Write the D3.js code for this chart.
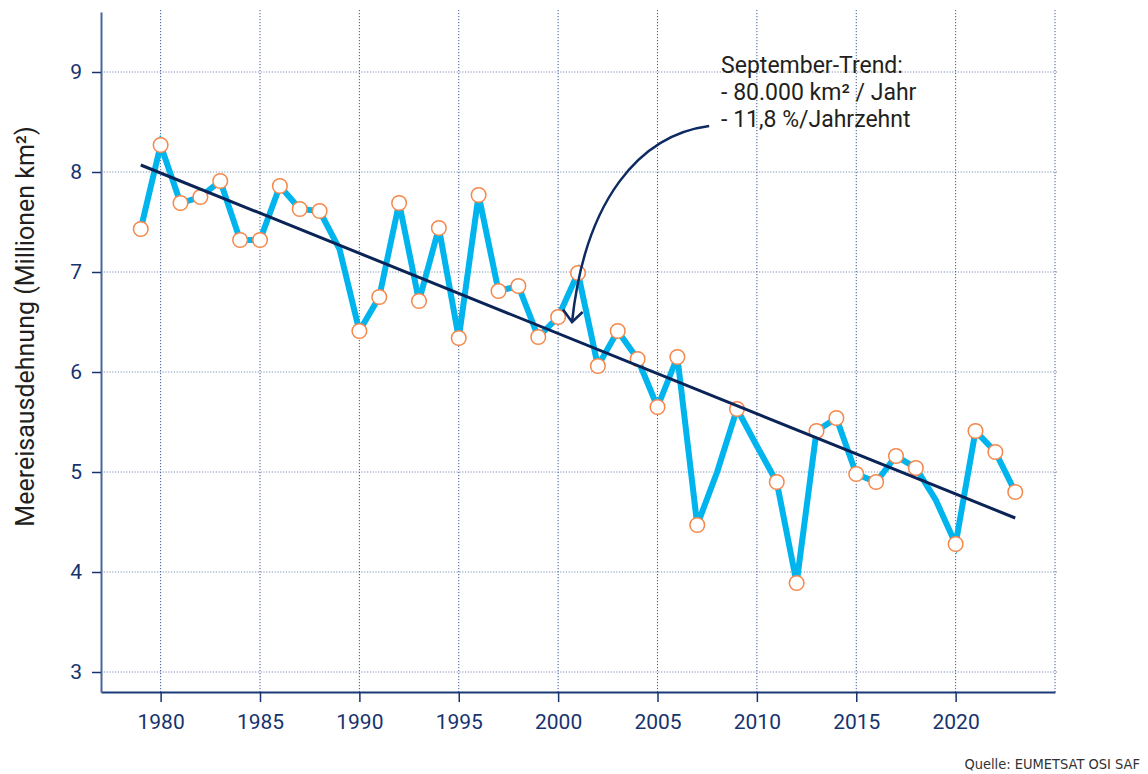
<!DOCTYPE html>
<html>
<head>
<meta charset="utf-8">
<script src="https://cdn.jsdelivr.net/npm/d3@7"></script>
<style>
    body { margin: 0; background: white; }
    svg { display: block; }
</style>
</head>
<body>
<script>

/**
 * Data (September sea ice extent, Mio km2)
 */

const YEARS = [1979, 1980, 1981, 1982, 1983, 1984, 1985, 1986, 1987, 1988,
               1989, 1990, 1991, 1992, 1993, 1994, 1995, 1996, 1997, 1998,
               1999, 2000, 2001, 2002, 2003, 2004, 2005, 2006, 2007, 2008,
               2009, 2010, 2011, 2012, 2013, 2014, 2015, 2016, 2017, 2018,
               2019, 2020, 2021, 2022, 2023];

const EXTENT = [7.43, 8.27, 7.69, 7.75, 7.91, 7.32, 7.32, 7.86, 7.63, 7.61,
                7.23, 6.41, 6.75, 7.69, 6.71, 7.44, 6.34, 7.77, 6.81, 6.86,
                6.35, 6.55, 6.99, 6.06, 6.41, 6.13, 5.65, 6.15, 4.47, 5.00,
                5.63, 5.26, 4.90, 3.89, 5.41, 5.54, 4.98, 4.90, 5.16, 5.04,
                4.72, 4.28, 5.41, 5.20, 4.80];

// years drawn without a circle in the original
const NO_MARKER = [1989, 2008, 2010, 2019];

const TREND_YEARS = [1979, 2023];
const TREND_VALUES = [8.07, 4.54];

const X_TICKS = [1980, 1985, 1990, 1995, 2000, 2005, 2010, 2015, 2020];
const X_GRID = [1980, 1985, 1990, 1995, 2000, 2005, 2010, 2015, 2020, 2025];
const Y_TICKS = [3, 4, 5, 6, 7, 8, 9];

const NOTE_LINES = ["September-Trend:", "- 80.000 km\u00B2 / Jahr", "- 11,8 %/Jahrzehnt"];

/**
 * Layout
 */

const WIDTH = 1148;
const HEIGHT = 774;

const LEFT = 101;
const RIGHT = 1055;
const TOP = 12;
const BOTTOM = 692;

const NAVY = "#17336e";
const FONT = "Roboto, 'Noto Sans', sans-serif";

const x = d3.scaleLinear().domain([1977, 2025]).range([LEFT, RIGHT]);
const y = d3.scaleLinear().domain([2.8, 9.6]).range([BOTTOM, TOP]);

const svg = initializeCanvas(WIDTH, HEIGHT, "white");

/**
 * Grid
 */

svg.append("g")
    .selectAll("line")
    .data(Y_TICKS)
    .join("line")
    .attr("x1", LEFT)
    .attr("x2", RIGHT + 2)
    .attr("y1", d => y(d))
    .attr("y2", d => y(d))
    .attr("stroke", "#7d8fb4")
    .attr("stroke-width", 1)
    .attr("stroke-dasharray", "1.2 1.6");

svg.append("g")
    .selectAll("line")
    .data(X_GRID)
    .join("line")
    .attr("x1", d => x(d))
    .attr("x2", d => x(d))
    .attr("y1", TOP - 2)
    .attr("y2", BOTTOM)
    .attr("stroke", "#3e5894")
    .attr("stroke-width", 1)
    .attr("stroke-dasharray", "1.2 1.8");

/**
 * Axes
 */

const xAxis = svg.append("g")
    .attr("transform", `translate(0,${BOTTOM})`)
    .call(d3.axisBottom(x).tickValues(X_TICKS).tickFormat(d3.format("d"))
        .tickSize(10).tickPadding(12).tickSizeOuter(0));

xAxis.select(".domain").attr("stroke", "#1b3a78").attr("stroke-width", 2);
xAxis.selectAll(".tick line").attr("stroke", NAVY).attr("stroke-width", 1.5);
xAxis.selectAll(".tick text")
    .attr("fill", NAVY)
    .style("font-family", FONT)
    .style("font-size", "21px");

const yAxis = svg.append("g")
    .attr("transform", `translate(${LEFT},0)`)
    .call(d3.axisLeft(y).tickValues(Y_TICKS).tickFormat(d3.format("d"))
        .tickSize(9).tickPadding(10).tickSizeOuter(0));

yAxis.select(".domain").attr("stroke", "#4a6699").attr("stroke-width", 2);
yAxis.selectAll(".tick line").attr("stroke", NAVY).attr("stroke-width", 1.5);
yAxis.selectAll(".tick text")
    .attr("fill", NAVY)
    .style("font-family", FONT)
    .style("font-size", "21px");

svg.append("text")
    .attr("transform", `translate(34,${(123 + 530) / 2}) rotate(-90)`)
    .attr("text-anchor", "middle")
    .attr("fill", "#231f20")
    .style("font-family", FONT)
    .style("font-size", "25px")
    .text("Meereisausdehnung (Millionen km\u00B2)");

/**
 * Series
 */

const points = YEARS.map((yr, i) => ({ year: yr, value: EXTENT[i] }));

svg.append("path")
    .datum(points)
    .attr("fill", "none")
    .attr("stroke", "#00b4ee")
    .attr("stroke-width", 6)
    .attr("stroke-linejoin", "miter")
    .attr("d", d3.line().x(d => x(d.year)).y(d => y(d.value)));

svg.append("g")
    .selectAll("circle")
    .data(points.filter(d => !NO_MARKER.includes(d.year)))
    .join("circle")
    .attr("cx", d => x(d.year))
    .attr("cy", d => y(d.value))
    .attr("r", 7.3)
    .attr("fill", "white")
    .attr("stroke", "#f5874a")
    .attr("stroke-width", 1.5);

svg.append("line")
    .attr("x1", x(TREND_YEARS[0]))
    .attr("y1", y(TREND_VALUES[0]))
    .attr("x2", x(TREND_YEARS[1]))
    .attr("y2", y(TREND_VALUES[1]))
    .attr("stroke", "#0b2457")
    .attr("stroke-width", 3);

/**
 * Annotation (anchored in data units)
 */

const tip = [x(2000.70), y(6.50)];
const tail = [x(2007.6), y(8.46)];
const c1 = [x(2004.1), y(8.37)];
const c2 = [x(2001.35), y(7.72)];

svg.append("path")
    .attr("fill", "none")
    .attr("stroke", "#0d2a62")
    .attr("stroke-width", 2.5)
    .attr("d", `M${tail} C${c1} ${c2} ${tip}`);

svg.append("path")
    .attr("fill", "none")
    .attr("stroke", "#0d2a62")
    .attr("stroke-width", 2.5)
    .attr("d", `M${tip[0] - 9},${tip[1] - 12.4} L${tip} L${tip[0] + 10.6},${tip[1] - 10}`);

svg.append("text")
    .attr("x", x(2008.2))
    .attr("y", y(8.99))
    .attr("fill", "#231f20")
    .style("font-family", FONT)
    .style("font-size", "23px")
    .selectAll("tspan")
    .data(NOTE_LINES)
    .join("tspan")
    .attr("x", x(2008.2))
    .attr("dy", (d, i) => i === 0 ? 0 : 27)
    .text(d => d);

svg.append("text")
    .attr("x", 1140)
    .attr("y", 769)
    .attr("text-anchor", "end")
    .attr("fill", "#333333")
    .style("font-family", "'DejaVu Sans Condensed', 'Liberation Sans Narrow', sans-serif")
    .style("font-size", "14.5px")
    .text("Quelle: EUMETSAT OSI SAF");

/**
 * Returns an SVG element of size w x h filled with color
 */
function initializeCanvas(w, h, color) {
    const svgSpace = d3.select("body")
        .append("svg")
        .attr("width", w)
        .attr("height", h);

    if (color != null) {
        svgSpace.append("rect")
            .attr("width", "100%")
            .attr("height", "100%")
            .attr("fill", color);
    }
    return svgSpace;
}

</script>
</body>
</html>
